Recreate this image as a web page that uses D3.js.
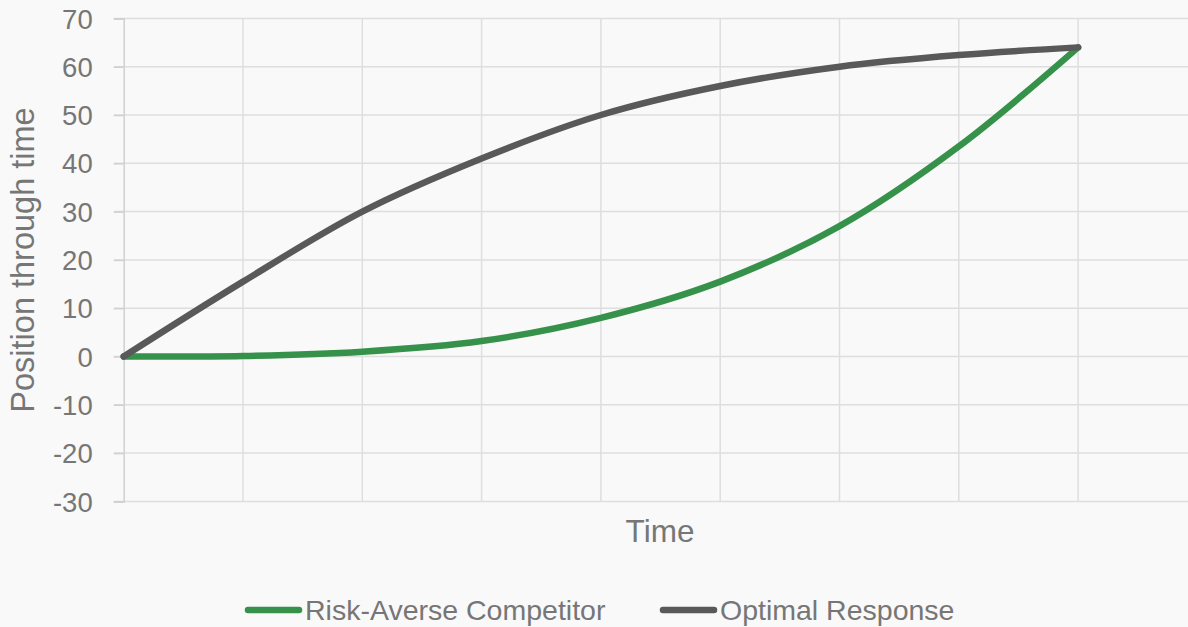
<!DOCTYPE html>
<html><head><meta charset="utf-8">
<script src="https://cdn.jsdelivr.net/npm/d3@7"></script>
<style>
html,body{margin:0;padding:0;background:#f9f9f9;}
svg{display:block;}
text{font-family:"Liberation Sans",Arial,sans-serif;fill:#767676;}
</style></head>
<body>
<svg id="chart" width="1188" height="627"></svg>
<script>
const categories = ["", "", "", "", "", "", "", "", ""];
const riskAverse = [0, 0.1, 1, 3.2, 8, 15.5, 27, 43.5, 64];
const optimal = [0, 15.5, 30, 41, 50, 56, 60, 62.4, 64];
const yTicks = [-30, -20, -10, 0, 10, 20, 30, 40, 50, 60, 70];
const seriesNames = ["Risk-Averse Competitor", "Optimal Response"];
const seriesColors = ["#36924a", "#595959"];

const svg = d3.select("#chart");
const W = 1188, H = 627;
svg.append("rect").attr("width", W).attr("height", H).attr("fill", "#f9f9f9");

const x = d3.scaleLinear().domain([0, categories.length]).range([123.7, 123.7 + 119.3 * categories.length]);
const y = d3.scaleLinear().domain([-30, 70]).range([501.4, 18.4]);

// horizontal gridlines
svg.append("g").selectAll("line").data(yTicks).join("line")
  .attr("x1", 114).attr("x2", x(categories.length))
  .attr("y1", d => y(d)).attr("y2", d => y(d))
  .attr("stroke", "#dedede").attr("stroke-width", 1.5);

// vertical gridlines
svg.append("g").selectAll("line").data(d3.range(1, categories.length)).join("line")
  .attr("x1", d => x(d)).attr("x2", d => x(d))
  .attr("y1", y(70)).attr("y2", y(-30))
  .attr("stroke", "#dedede").attr("stroke-width", 1.5);

// y axis
const yAxis = d3.axisLeft(y).tickValues(yTicks).tickSize(10).tickPadding(21).tickFormat(d => String(d));
const gy = svg.append("g").attr("transform", `translate(${x(0)},0)`).call(yAxis);
gy.select(".domain").attr("stroke", "#d0d0d0").attr("stroke-width", 1.5);
gy.selectAll(".tick line").attr("stroke", "#d0d0d0").attr("stroke-width", 1.5);
gy.selectAll(".tick text").attr("font-size", 27.5).attr("fill", "#767676")
  .attr("font-family", '"Liberation Sans",Arial,sans-serif').attr("dy", "0.35em");

// axis titles
svg.append("text").attr("transform", "translate(34,260) rotate(-90)")
  .attr("text-anchor", "middle").attr("font-size", 32.5).text("Position through time");
svg.append("text").attr("x", 660).attr("y", 542)
  .attr("text-anchor", "middle").attr("font-size", 31.5).text("Time");

// lines
const line = d3.line().x((d, i) => x(i)).y(d => y(d)).curve(d3.curveCatmullRom.alpha(0.5));
[riskAverse, optimal].forEach((s, k) => {
  svg.append("path").datum(s).attr("d", line)
    .attr("fill", "none").attr("stroke", seriesColors[k]).attr("stroke-width", 6.5)
    .attr("stroke-linecap", "round").attr("stroke-linejoin", "round");
});

// legend
const legendX = [248, 663];
const leg = svg.append("g");
seriesNames.forEach((name, k) => {
  leg.append("line").attr("x1", legendX[k]).attr("x2", legendX[k] + 51)
    .attr("y1", 610).attr("y2", 610)
    .attr("stroke", seriesColors[k]).attr("stroke-width", 6.5).attr("stroke-linecap", "round");
  leg.append("text").attr("x", legendX[k] + 57).attr("y", 620)
    .attr("font-size", 28.5).text(name);
});
</script>
</body></html>
